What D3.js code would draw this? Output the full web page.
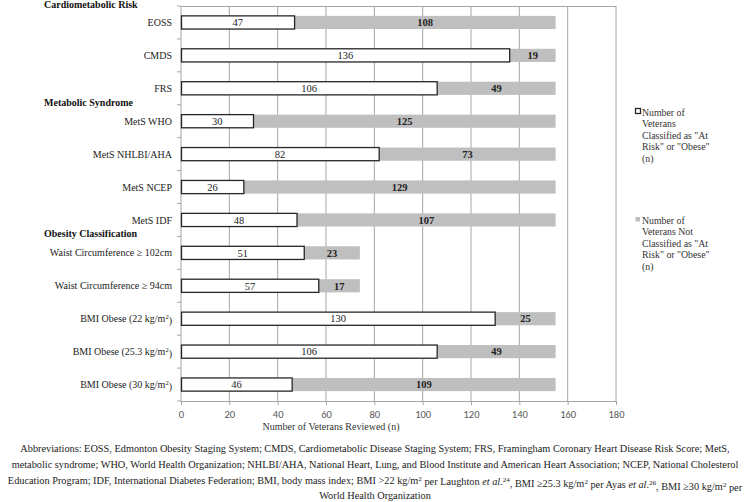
<!DOCTYPE html>
<html>
<head>
<meta charset="utf-8">
<script src="https://cdn.jsdelivr.net/npm/d3@7"></script>
<style>
  body { margin: 0; background: #fff; }
  svg { display: block; }
</style>
</head>
<body>
<svg width="750" height="502" font-family="'Liberation Serif', 'Times New Roman', serif"></svg>
<script>
var categories = ["EOSS", "CMDS", "FRS", "MetS WHO", "MetS NHLBI/AHA", "MetS NCEP", "MetS IDF",
  "Waist Circumference \u2265 102cm", "Waist Circumference \u2265 94cm",
  "BMI Obese (22 kg/m2)", "BMI Obese (25.3 kg/m2)", "BMI Obese (30 kg/m2)"];
var atRisk = [47, 136, 106, 30, 82, 26, 48, 51, 57, 130, 106, 46];
var notAtRisk = [108, 19, 49, 125, 73, 129, 107, 23, 17, 25, 49, 109];
var groups = [
  { name: "Cardiometabolic Risk", before: 0 },
  { name: "Metabolic Syndrome", before: 3 },
  { name: "Obesity Classification", before: 7 }
];
var xTicks = [0, 20, 40, 60, 80, 100, 120, 140, 160, 180];
var legendLabels = [
  ["Number of", "Veterans", "Classified as \"At", "Risk\" or \"Obese\"", "(n)"],
  ["Number of", "Veterans Not", "Classified as \"At", "Risk\" or \"Obese\"", "(n)"]
];
var caption = [
  "Abbreviations: EOSS, Edmonton Obesity Staging System; CMDS, Cardiometabolic Disease Staging System; FRS, Framingham Coronary Heart Disease Risk Score; MetS,",
  "metabolic syndrome; WHO, World Health Organization; NHLBI/AHA, National Heart, Lung, and Blood Institute and American Heart Association; NCEP, National Cholesterol",
  null,
  "World Health Organization"
];

var svg = d3.select("svg");
var serif = "'Liberation Serif', 'Times New Roman', serif";
var plotLeft = 181, plotRight = 616, plotTop = 6, plotBottom = 401;

var x = d3.scaleLinear().domain([0, 180]).range([plotLeft, plotRight]);
var y = d3.scaleBand().domain(categories).range([plotTop, plotBottom]).paddingInner(0.6).paddingOuter(0.3);
var bandEdge = function(i) { return y(categories[0]) - y.step() * y.paddingInner() / 2 + i * y.step(); };

// gridlines
svg.append("g").selectAll("line")
  .data(xTicks.slice(1))
  .enter().append("line")
    .attr("x1", function(d) { return x(d); })
    .attr("x2", function(d) { return x(d); })
    .attr("y1", plotTop).attr("y2", plotBottom)
    .attr("stroke", "#a6a6a6").attr("stroke-width", 1);

// top border
svg.append("line").attr("x1", plotLeft).attr("x2", plotRight).attr("y1", plotTop + 0.5).attr("y2", plotTop + 0.5)
  .attr("stroke", "#a6a6a6");

// x axis
var xAxis = svg.append("g")
  .attr("transform", "translate(0," + plotBottom + ")")
  .call(d3.axisBottom(x).tickValues(xTicks).tickSize(4).tickSizeOuter(0));
xAxis.selectAll("line, path").attr("stroke", "#a6a6a6");
xAxis.selectAll("text").attr("fill", "#595959").attr("font-size", 10.5)
  .attr("font-family", "Carlito, 'Liberation Sans', sans-serif").attr("dy", "0.95em");

// y axis with ticks at band boundaries
svg.append("line").attr("x1", plotLeft).attr("x2", plotLeft).attr("y1", plotTop).attr("y2", plotBottom).attr("stroke", "#a6a6a6");
svg.append("g").selectAll("line")
  .data(d3.range(categories.length + 1))
  .enter().append("line")
    .attr("x1", plotLeft - 4).attr("x2", plotLeft)
    .attr("y1", bandEdge).attr("y2", bandEdge)
    .attr("stroke", "#a6a6a6");

var rows = categories.map(function(c, i) { return { cat: c, a: atRisk[i], b: notAtRisk[i] }; });

// not at risk (gray)
svg.append("g").selectAll("rect")
  .data(rows)
  .enter().append("rect")
    .attr("x", function(d) { return x(d.a); })
    .attr("y", function(d) { return y(d.cat); })
    .attr("width", function(d) { return x(d.a + d.b) - x(d.a); })
    .attr("height", y.bandwidth())
    .attr("fill", "#bfbfbf");

// at risk (white, outlined)
svg.append("g").selectAll("rect")
  .data(rows)
  .enter().append("rect")
    .attr("x", x(0) + 0.5)
    .attr("y", function(d) { return y(d.cat); })
    .attr("width", function(d) { return x(d.a) - x(0) - 0.5; })
    .attr("height", y.bandwidth())
    .attr("fill", "#fff").attr("stroke", "#262626").attr("stroke-width", 1.3);

// value labels
svg.append("g").attr("font-family", serif).selectAll("text")
  .data(rows)
  .enter().append("text")
    .attr("x", function(d) { return (x(0) + x(d.a)) / 2; })
    .attr("y", function(d) { return y(d.cat) + y.bandwidth() / 2; })
    .attr("dy", "0.36em").attr("text-anchor", "middle")
    .attr("font-size", 10.5).attr("fill", "#222")
    .text(function(d) { return d.a; });

svg.append("g").attr("font-family", serif).selectAll("text")
  .data(rows)
  .enter().append("text")
    .attr("x", function(d) { return (x(d.a) + x(d.a + d.b)) / 2; })
    .attr("y", function(d) { return y(d.cat) + y.bandwidth() / 2; })
    .attr("dy", "0.36em").attr("text-anchor", "middle")
    .attr("font-size", 10.5).attr("font-weight", "bold").attr("fill", "#222")
    .text(function(d) { return d.b; });

// category labels
var catLabels = svg.append("g").attr("font-family", serif).selectAll("text")
  .data(categories)
  .enter().append("text")
    .attr("x", 172)
    .attr("y", function(d) { return y(d) + y.bandwidth() / 2; })
    .attr("dy", "0.36em").attr("text-anchor", "end")
    .attr("font-size", 10).attr("fill", "#222");
catLabels.each(function(d) {
  var t = d3.select(this);
  var m = d.match(/^(.*kg\/m)2(\))$/);
  if (m) {
    t.append("tspan").text(m[1]);
    t.append("tspan").attr("dy", "-0.45em").attr("font-size", 6.5).text("2");
    t.append("tspan").attr("dy", "0.45em").text(m[2]);
  } else {
    t.text(d);
  }
});

// group headers
svg.append("g").attr("font-family", serif).selectAll("text")
  .data(groups)
  .enter().append("text")
    .attr("x", 44)
    .attr("y", function(g) { return g.before === 0 ? 8 : bandEdge(g.before) + 1; })
    .attr("font-size", 10).attr("font-weight", "bold").attr("fill", "#111")
    .text(function(g) { return g.name; });

// legend
var legend = svg.append("g").attr("font-family", serif);
var legendY = [112, 220];
legendLabels.forEach(function(lines, k) {
  var g = legend.append("g").attr("transform", "translate(635," + legendY[k] + ")");
  if (k === 0) {
    g.append("rect").attr("x", 0.5).attr("y", -3.5).attr("width", 5).attr("height", 5)
      .attr("fill", "#fff").attr("stroke", "#262626").attr("stroke-width", 1.3);
  } else {
    g.append("rect").attr("x", 0.5).attr("y", -3).attr("width", 4.5).attr("height", 4.5).attr("fill", "#bfbfbf");
  }
  g.selectAll("text").data(lines).enter().append("text")
    .attr("x", 7).attr("y", function(d, i) { return i * 11.5; })
    .attr("dy", "0.36em").attr("font-size", 9.8).attr("fill", "#333")
    .text(function(d) { return d; });
});

// axis title
svg.append("text").attr("font-family", serif)
  .attr("x", 331).attr("y", 430).attr("text-anchor", "middle")
  .attr("font-size", 10).attr("fill", "#333")
  .text("Number of Veterans Reviewed (n)");

// caption
var cap = svg.append("g").attr("font-family", serif).attr("font-size", 10.3).attr("fill", "#222");
var capY = [452, 468, 484, 499];
caption.forEach(function(line, i) {
  var t = cap.append("text").attr("x", 375).attr("y", capY[i]).attr("text-anchor", "middle");
  if (line !== null) { t.text(line); return; }
  t.append("tspan").text("Education Program; IDF, International Diabetes Federation; BMI, body mass index; BMI >22 kg/m");
  t.append("tspan").attr("dy", "-0.45em").attr("font-size", 7).text("2");
  t.append("tspan").attr("dy", "0.45em").text(" per Laughton ");
  t.append("tspan").attr("font-style", "italic").text("et al");
  t.append("tspan").text(".");
  t.append("tspan").attr("dy", "-0.45em").attr("font-size", 7).text("24");
  t.append("tspan").attr("dy", "0.45em").text(", BMI \u226525.3 kg/m");
  t.append("tspan").attr("dy", "-0.45em").attr("font-size", 7).text("2");
  t.append("tspan").attr("dy", "0.45em").text(" per Ayas ");
  t.append("tspan").attr("font-style", "italic").text("et al");
  t.append("tspan").text(".");
  t.append("tspan").attr("dy", "-0.45em").attr("font-size", 7).text("26");
  t.append("tspan").attr("dy", "0.45em").text(", BMI \u226530 kg/m");
  t.append("tspan").attr("dy", "-0.45em").attr("font-size", 7).text("2");
  t.append("tspan").attr("dy", "0.45em").text(" per");
});
</script>
</body>
</html>
